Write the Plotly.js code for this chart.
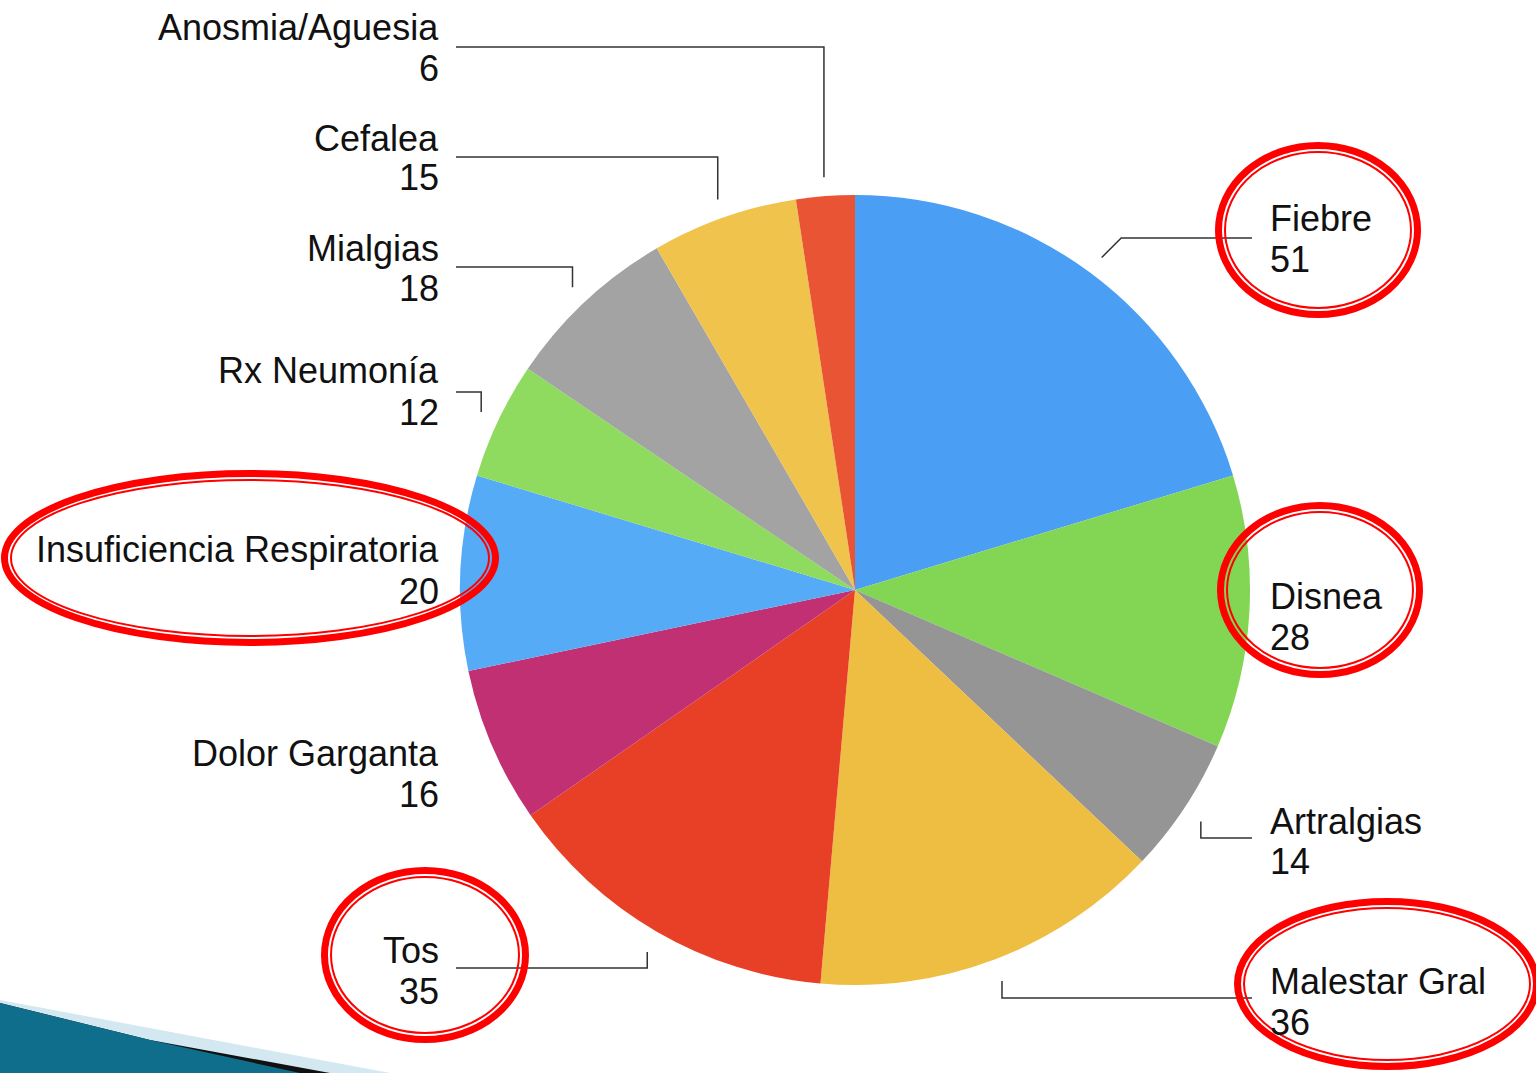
<!DOCTYPE html>
<html>
<head>
<meta charset="utf-8">
<script src="https://cdn.plot.ly/plotly-3.0.1.min.js"></script>
<style>
  html, body { margin: 0; padding: 0; background: #fff; }
  #grafSintomas { width: 1536px; height: 1073px; }
</style>
</head>
<body>
<div id="grafSintomas"></div>
<script>
// datos
const sintomas = ['Fiebre', 'Disnea', 'Artralgias', 'Malestar Gral', 'Tos', 'Dolor Garganta',
    'Insuficiencia Respiratoria', 'Rx Neumonía', 'Mialgias', 'Cefalea', 'Anosmia/Aguesia'];
const casos = [51, 28, 14, 36, 35, 16, 20, 12, 18, 15, 6];
const colores = ['#4A9FF5', '#82D654', '#959595', '#EEBE42', '#E84026', '#C03072',
    '#56ABF6', '#8EDB5F', '#A3A3A3', '#EFC34C', '#E95434'];

// posicion de las etiquetas (px): lado, y nombre, y valor, y linea guia
const etiquetas = [
    { lado: 'der', yNom: 219, yVal: 259, yGuia: 238, guia: 'diag' },
    { lado: 'der', yNom: 596, yVal: 637, yGuia: null, guia: null },
    { lado: 'der', yNom: 821, yVal: 861, yGuia: 838, guia: 'vert' },
    { lado: 'der', yNom: 981, yVal: 1022, yGuia: 998, guia: 'vert' },
    { lado: 'izq', yNom: 950, yVal: 991, yGuia: 968, guia: 'vert' },
    { lado: 'izq', yNom: 753, yVal: 794, yGuia: null, guia: null },
    { lado: 'izq', yNom: 549, yVal: 591, yGuia: null, guia: null },
    { lado: 'izq', yNom: 370, yVal: 412, yGuia: 392, guia: 'vert' },
    { lado: 'izq', yNom: 248, yVal: 288, yGuia: 267, guia: 'vert' },
    { lado: 'izq', yNom: 138, yVal: 178, yGuia: 157, guia: 'vert' },
    { lado: 'izq', yNom: 27, yVal: 68, yGuia: 47, guia: 'vert' },
];

// circulos rojos (px): centro y radios
const circulos = [
    { cx: 1318, cy: 230, rx: 103, ry: 88 },
    { cx: 1320, cy: 590, rx: 103, ry: 88 },
    { cx: 250, cy: 558, rx: 249, ry: 88 },
    { cx: 425, cy: 955, rx: 104, ry: 88 },
    { cx: 1387, cy: 984, rx: 153, ry: 86 },
];

const W = 1536, H = 1073;
const cx = 855, cy = 590, radio = 395;
const px = x => x / W;
const py = y => 1 - y / H;

const fuente = { family: 'Liberation Sans, Arial, Helvetica, sans-serif', size: 36, color: '#111' };

const total = casos.reduce((a, b) => a + b, 0);
const annotations = [];
const shapes = [];
let acum = 0;
casos.forEach((v, i) => {
    const angMedio = (acum + v / 2) / total * 2 * Math.PI;
    acum += v;
    const e = etiquetas[i];
    const xTxt = e.lado === 'der' ? 1268 : 441;
    const anchor = e.lado === 'der' ? 'left' : 'right';
    annotations.push({ x: px(xTxt), y: py(e.yNom), xref: 'paper', yref: 'paper', text: sintomas[i],
        showarrow: false, xanchor: anchor, yanchor: 'middle', font: fuente });
    annotations.push({ x: px(xTxt), y: py(e.yVal), xref: 'paper', yref: 'paper', text: String(v),
        showarrow: false, xanchor: anchor, yanchor: 'middle', font: fuente });

    if (e.guia) {
        // punto al borde del sector
        const r = radio + 19;
        const bx = cx + r * Math.sin(angMedio);
        const by = cy - r * Math.cos(angMedio);
        const xFin = e.lado === 'der' ? 1252 : 456;
        let path;
        if (e.guia === 'diag') {
            const dx = e.yGuia - by;
            path = `M${px(bx)},${py(by)} L${px(bx - dx)},${py(e.yGuia)} L${px(xFin)},${py(e.yGuia)}`;
        } else {
            const y0 = e.yGuia > by ? by + 4 : by;
            path = `M${px(bx)},${py(y0)} L${px(bx)},${py(e.yGuia)} L${px(xFin)},${py(e.yGuia)}`;
        }
        shapes.push({ type: 'path', xref: 'paper', yref: 'paper', path: path,
            line: { color: '#333', width: 1.5 } });
    }
});

circulos.forEach(c => {
    shapes.push({ type: 'circle', xref: 'paper', yref: 'paper',
        x0: px(c.cx - c.rx + 3.5), x1: px(c.cx + c.rx - 3.5), y0: py(c.cy + c.ry - 3.5), y1: py(c.cy - c.ry + 3.5),
        line: { color: '#FF0000', width: 7 } });
    shapes.push({ type: 'circle', xref: 'paper', yref: 'paper',
        x0: px(c.cx - c.rx + 10), x1: px(c.cx + c.rx - 10), y0: py(c.cy + c.ry - 10), y1: py(c.cy - c.ry + 10),
        line: { color: '#FF0000', width: 2 } });
});

// adorno de la diapositiva abajo a la izquierda
shapes.push({ type: 'path', xref: 'paper', yref: 'paper', layer: 'above',
    path: `M0,${py(1000)} L${px(390)},${py(1073)} L0,${py(1073)} Z`,
    fillcolor: '#D3E8F0', line: { width: 0 } });
shapes.push({ type: 'path', xref: 'paper', yref: 'paper', layer: 'above',
    path: `M0,${py(1003)} L${px(150)},${py(1040)} L${px(330)},${py(1073)} L0,${py(1073)} Z`,
    fillcolor: '#111', line: { width: 0 } });
shapes.push({ type: 'path', xref: 'paper', yref: 'paper', layer: 'above',
    path: `M0,${py(1003)} L${px(150)},${py(1040)} L${px(300)},${py(1073)} L0,${py(1073)} Z`,
    fillcolor: '#0F6E8C', line: { width: 0 } });

const data = [{
    type: 'pie',
    labels: sintomas,
    values: casos,
    sort: false,
    direction: 'clockwise',
    rotation: 0,
    textinfo: 'none',
    hoverinfo: 'label+value',
    marker: { colors: colores, line: { width: 0 } },
    domain: { x: [px(cx - radio), px(cx + radio)], y: [py(cy + radio), py(cy - radio)] },
}];

const layout = {
    width: W,
    height: H,
    margin: { l: 0, r: 0, t: 0, b: 0 },
    showlegend: false,
    paper_bgcolor: '#fff',
    annotations: annotations,
    shapes: shapes,
};

Plotly.newPlot('grafSintomas', data, layout, { displayModeBar: false });
</script>
</body>
</html>
